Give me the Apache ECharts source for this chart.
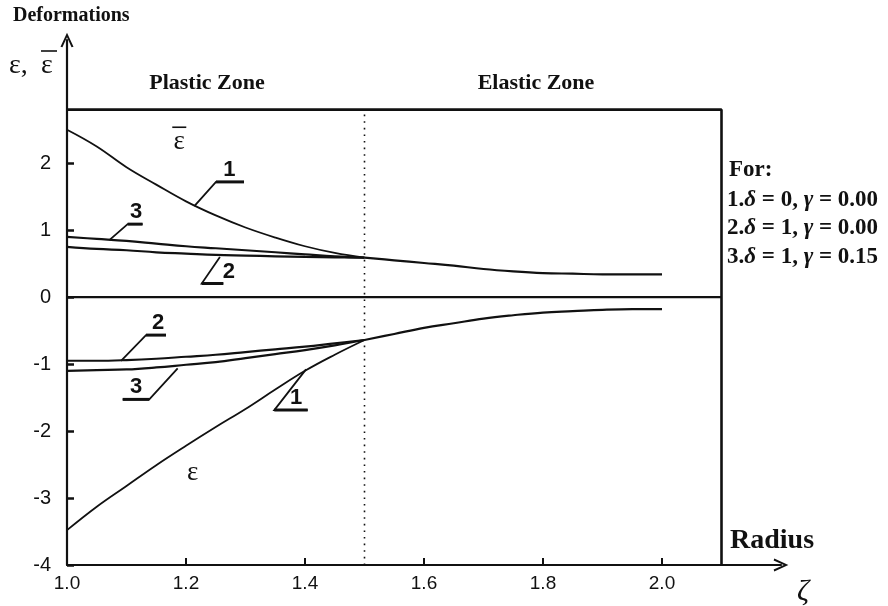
<!DOCTYPE html>
<html>
<head>
<meta charset="utf-8">
<script src="https://cdn.jsdelivr.net/npm/echarts@6/dist/echarts.min.js"></script>
<style>
  html, body { margin: 0; padding: 0; background: #fff; }
  #chart { width: 888px; height: 606px; }
</style>
</head>
<body>
<div id="chart"></div>
<script>
// radius values (plastic zone 1.0 - 1.5, elastic zone 1.5 - 2.0)
const plasticRadius = [1.0, 1.05, 1.1, 1.15, 1.2, 1.25, 1.3, 1.35, 1.4, 1.45, 1.5]
const elasticRadius = [1.5, 1.55, 1.6, 1.65, 1.7, 1.75, 1.8, 1.85, 1.9, 1.95, 2.0]

// upper curves (eps bar), cases 1..3
const epsBar1 = [2.50, 2.25, 1.94, 1.68, 1.43, 1.22, 1.04, 0.89, 0.76, 0.66, 0.59]
const epsBar2 = [0.75, 0.72, 0.70, 0.67, 0.65, 0.63, 0.62, 0.61, 0.60, 0.595, 0.59]
const epsBar3 = [0.90, 0.87, 0.84, 0.80, 0.76, 0.73, 0.70, 0.67, 0.64, 0.61, 0.59]
const epsBarElastic = [0.59, 0.55, 0.51, 0.47, 0.42, 0.385, 0.36, 0.35, 0.34, 0.34, 0.34]

// lower curves (eps), cases 1..3
const eps1 = [-3.48, -3.13, -2.82, -2.51, -2.22, -1.94, -1.67, -1.38, -1.10, -0.86, -0.64]
const eps2 = [-0.95, -0.95, -0.94, -0.92, -0.89, -0.86, -0.82, -0.78, -0.74, -0.69, -0.64]
const eps3 = [-1.10, -1.09, -1.08, -1.05, -1.01, -0.97, -0.91, -0.85, -0.79, -0.72, -0.64]
const epsElastic = [-0.64, -0.55, -0.46, -0.39, -0.32, -0.27, -0.23, -0.21, -0.19, -0.18, -0.18]

// axis ticks
const xTicks = [1.0, 1.2, 1.4, 1.6, 1.8, 2.0]
const yTicks = [-4, -3, -2, -1, 0, 1, 2]

// frame of the drawing
const boxTop = 2.8
const boxRight = 2.1
const zoneBoundary = 1.5

const legendLines = [
  ['1.', '0', '0.00'],
  ['2.', '1', '0.00'],
  ['3.', '1', '0.15']
]

const INK = '#111'
const SERIF = "'Liberation Serif', 'Times New Roman', serif"
const SANS = "'Liberation Sans Narrow', 'Liberation Sans', Arial, sans-serif"

const pairs = (xs, ys) => xs.map((x, i) => [x, ys[i]])

const curve = (name, xs, ys, width) => ({
  name,
  type: 'line',
  data: pairs(xs, ys),
  showSymbol: false,
  smooth: 0.4,
  silent: true,
  lineStyle: { color: INK, width }
})

// open chevron arrow head
const arrowPath = 'path://M0,13 L6,0 L12,13 L10.2,13.6 L6,4.2 L1.8,13.6 Z'

const chart = echarts.init(document.getElementById('chart'))

const option = {
  animation: false,
  backgroundColor: '#fff',
  grid: { left: 67, right: 107, top: 40, bottom: 41 },
  xAxis: {
    type: 'value',
    min: 1.0,
    max: 2.2,
    interval: 0.2,
    splitLine: { show: false },
    axisLine: {
      onZero: false,
      symbol: ['none', arrowPath],
      symbolSize: [13, 15],
      lineStyle: { color: INK, width: 2.2 }
    },
    axisTick: {
      inside: true, length: 7,
      customValues: xTicks,
      lineStyle: { color: INK, width: 2 }
    },
    axisLabel: {
      customValues: xTicks,
      formatter: v => v.toFixed(1),
      color: INK, fontSize: 19, fontFamily: SANS, margin: 9
    }
  },
  yAxis: {
    type: 'value',
    min: -4,
    max: 3.84,
    interval: 1,
    splitLine: { show: false },
    axisLine: {
      onZero: false,
      symbol: ['none', arrowPath],
      symbolSize: [13, 15],
      lineStyle: { color: INK, width: 2.2 }
    },
    axisTick: {
      inside: true, length: 7,
      customValues: yTicks,
      lineStyle: { color: INK, width: 2.5 }
    },
    axisLabel: {
      customValues: yTicks,
      formatter: v => (v < 0 ? '-' + Math.abs(v) : String(v)),
      color: INK, fontSize: 20, fontFamily: SANS, margin: 16
    }
  },
  series: [
    curve('epsBar1', plasticRadius, epsBar1, 1.8),
    curve('epsBar2', plasticRadius, epsBar2, 2.2),
    curve('epsBar3', plasticRadius, epsBar3, 2.2),
    curve('epsBarElastic', elasticRadius, epsBarElastic, 2.2),
    curve('eps1', plasticRadius, eps1, 1.8),
    curve('eps2', plasticRadius, eps2, 2.2),
    curve('eps3', plasticRadius, eps3, 2.2),
    curve('epsElastic', elasticRadius, epsElastic, 2.2),
    {
      name: 'frame', type: 'line', silent: true, showSymbol: false,
      data: [[1.0, boxTop], [boxRight, boxTop], [boxRight, -4]],
      lineStyle: { color: INK, width: 2.6 }
    },
    {
      name: 'zero', type: 'line', silent: true, showSymbol: false,
      data: [[1.0, 0], [boxRight, 0]],
      lineStyle: { color: INK, width: 2.4 }
    },
    {
      name: 'boundary', type: 'line', silent: true, showSymbol: false,
      data: [[zoneBoundary, -4], [zoneBoundary, boxTop]],
      lineStyle: { color: INK, width: 1.6, type: [1.6, 5] }
    }
  ]
}

chart.setOption(option)

// annotations, anchored in data coordinates
const leaders = [
  { txt: '1', pts: [[1.214, 1.358], [1.2504, 1.721], [1.2975, 1.721]], at: [1.2728, 1.721] },
  { txt: '3', pts: [[1.0711, 0.851], [1.102, 1.09], [1.127, 1.09]], at: [1.116, 1.09] },
  { txt: '2', pts: [[1.257, 0.601], [1.2264, 0.204], [1.2627, 0.204]], at: [1.272, 0.204] },
  { txt: '2', pts: [[1.0908, -0.951], [1.1328, -0.567], [1.1664, -0.567]], at: [1.153, -0.567] },
  { txt: '3', pts: [[1.186, -1.064], [1.1383, -1.527], [1.0936, -1.527]], at: [1.116, -1.527] },
  { txt: '1', pts: [[1.4017, -1.079], [1.3484, -1.687], [1.4045, -1.687]], at: [1.385, -1.687] }
]

const px = p => chart.convertToPixel({ gridIndex: 0 }, p)

const text = (x, y, str, font, align, extra) => ({
  type: 'text', x, y, silent: true,
  style: Object.assign({
    text: str, font, fill: INK,
    textAlign: align || 'left', align: align || 'left',
    textVerticalAlign: 'middle', verticalAlign: 'middle'
  }, extra || {})
})

const graphics = []

leaders.forEach(l => {
  graphics.push({
    type: 'polyline', silent: true,
    shape: { points: l.pts.map(px) },
    style: { stroke: INK, lineWidth: 1.8, fill: null }
  })
  const a = px(l.pts[1]), b = px(l.pts[2])
  graphics.push({
    type: 'line', silent: true,
    shape: { x1: a[0], y1: a[1], x2: b[0], y2: b[1] },
    style: { stroke: INK, lineWidth: 3 }
  })
  const t = px(l.at)
  graphics.push(text(t[0], t[1] - 1, l.txt, 'bold 22px ' + SANS, 'center',
    { textVerticalAlign: 'bottom', verticalAlign: 'bottom' }))
})

const eb = px([1.1887, 2.343])
graphics.push(text(eb[0], eb[1] + 2, 'ε', '27px ' + SERIF, 'center'))
graphics.push({
  type: 'line', silent: true,
  shape: { x1: eb[0] - 7, y1: eb[1] - 13, x2: eb[0] + 7, y2: eb[1] - 13 },
  style: { stroke: INK, lineWidth: 1.6 }
})
const el = px([1.2113, -2.63])
graphics.push(text(el[0], el[1], 'ε', '27px ' + SERIF, 'center'))

// titles and side labels
graphics.push(text(13, 16, 'Deformations', 'bold 20px ' + SERIF, 'left'))
graphics.push(text(9, 66, 'ε,', '28px ' + SERIF, 'left'))
graphics.push(text(41, 66, 'ε', '28px ' + SERIF, 'left'))
graphics.push({
  type: 'line', silent: true,
  shape: { x1: 41, y1: 51, x2: 57, y2: 51 },
  style: { stroke: INK, lineWidth: 1.6 }
})
graphics.push(text(207, 83, 'Plastic Zone', 'bold 22px ' + SERIF, 'center'))
graphics.push(text(536, 83, 'Elastic Zone', 'bold 22px ' + SERIF, 'center'))
graphics.push(text(730, 541, 'Radius', 'bold 28px ' + SERIF, 'left'))
graphics.push(text(797, 592, 'ζ', 'italic 30px ' + SERIF, 'left'))

graphics.push(text(729, 170, 'For:', 'bold 23px ' + SERIF, 'left'))
legendLines.forEach((l, i) => {
  graphics.push({
    type: 'text', x: 727, y: 200 + i * 28.5, silent: true,
    style: {
      text: '{b|' + l[0] + '}{i|δ}{b| = ' + l[1] + ', }{i|γ}{b| = ' + l[2] + '}',
      textVerticalAlign: 'middle', verticalAlign: 'middle',
      rich: {
        b: { font: 'bold 23px ' + SERIF, fill: INK, color: INK },
        i: { font: 'italic bold 23px ' + SERIF, fill: INK, color: INK }
      }
    }
  })
})

chart.setOption({ graphic: graphics })
</script>
</body>
</html>
